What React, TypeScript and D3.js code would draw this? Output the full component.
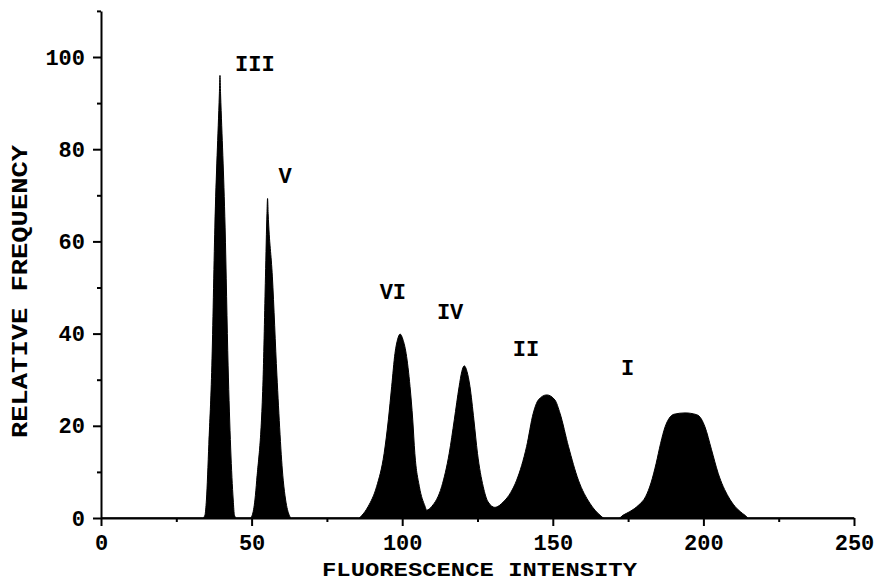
import React, { useEffect, useRef } from 'react'
import * as d3 from 'd3'

// outline of the histogram (intensity, relative frequency)
const intensity = [
  0, 33.8, 34.5, 35.0, 35.8, 36.8, 37.8, 39.3, 39.5, 39.7, 41.2, 42.2, 43.9, 44.3, 45,
  49.5, 50.2, 51.1, 51.7, 53.8, 54.6, 55.1, 55.3, 55.5, 56.9, 58.4, 60.5, 61.3, 62.5, 63.2,
  85.5, 86.5, 88.7, 91.5, 94.0, 95.4, 96.5, 97.6, 98.5, 99.3, 100.2, 101.3, 102.6, 103.5, 104.2, 105.7, 107.6, 108.1,
  109.8, 113.1, 115.6, 117.3, 118.9, 119.8, 120.6, 121.5, 122.5, 123.8, 125.0, 126.9, 128.5, 130.8,
  133.6, 136.0, 138.0, 141.3, 143.5, 145.2, 148.0, 150.7, 152.4, 155.2, 158.5, 162.3, 165.7, 167,
  172, 173.3, 175.6, 178.5, 180.8, 182.6, 184.3, 185.8, 187.3, 188.6, 190.2, 193.9, 197.8, 199.3, 200.5, 202.7, 204.9, 208.3, 210.5, 212.2, 213.8, 215, 250,
]
const frequency = [
  0, 0, 0.6, 3.9, 16, 33, 63.1, 92, 96, 92, 63.1, 33, 3.9, 0.6, 0,
  0, 0.6, 3.9, 8.2, 30, 52.3, 66, 69.3, 66, 52.3, 31, 8.2, 3.9, 0.6, 0,
  0, 0.5, 2.5, 6.8, 14, 21.3, 28.5, 35.7, 38.8, 39.9, 38.8, 35.7, 28.5, 21.3, 14, 6.8, 2.5, 1.7,
  2.5, 6.8, 14, 21.3, 28.5, 31.8, 33, 31.8, 28.5, 21.3, 14, 6.8, 3.5, 2.3,
  3.5, 5.5, 8.2, 15.5, 22.7, 25.6, 26.7, 25.6, 22.7, 15.5, 8.2, 3.2, 0.6, 0,
  0, 0.6, 1.4, 2.8, 4.6, 7.6, 11.8, 16.2, 19.8, 21.6, 22.5, 22.8, 22.4, 21.5, 19.8, 14.8, 9.7, 4.6, 2.5, 1.4, 0.6, 0, 0,
]

// peak labels and where they sit (in data units)
const peakNames = ['III', 'V', 'VI', 'IV', 'II', 'I']
const peakLabelX = [51.1, 61.1, 96.9, 115.9, 141.1, 174.8]
const peakLabelY = [97, 72.7, 47.5, 43.2, 35.1, 31]

const xTicks = [0, 50, 100, 150, 200, 250]
const xMinorTicks = [25, 75, 125, 175, 225]
const yTicks = [0, 20, 40, 60, 80, 100]
const yMinorTicks = [10, 30, 50, 70, 90, 110]

const FONT = '"Liberation Mono", "DejaVu Sans Mono", monospace'

const App = () => {
  const svgRef = useRef<SVGSVGElement>(null)

  useEffect(() => {
    const svg = d3.select(svgRef.current)
    svg.selectAll('*').remove()

    const x = d3.scaleLinear().domain([0, 250]).range([101, 854])
    const y = d3.scaleLinear().domain([0, 110]).range([518, 518 - 110 * 4.61])

    const points = intensity.map((v, i) => [v, frequency[i]] as [number, number])

    // filled histogram
    const area = d3.area<[number, number]>()
      .x(d => x(d[0]))
      .y0(y(0))
      .y1(d => y(d[1]))
      .curve(d3.curveMonotoneX)

    svg.append('path')
      .datum(points)
      .attr('d', area)
      .attr('fill', '#000')
      .attr('stroke', '#000')
      .attr('stroke-width', 1)

    // x axis: minor ticks first, then major with labels
    const xMinor = svg.append('g')
      .attr('transform', `translate(0,${y(0)})`)
      .call(d3.axisBottom(x).tickValues(xMinorTicks).tickSize(4).tickSizeOuter(0).tickFormat(() => ''))
    xMinor.select('.domain').remove()

    const xAxis = svg.append('g')
      .attr('transform', `translate(0,${y(0)})`)
      .call(d3.axisBottom(x).tickValues(xTicks).tickSize(8).tickSizeOuter(0).tickPadding(8))

    const yMinor = svg.append('g')
      .attr('transform', `translate(${x(0)},0)`)
      .call(d3.axisLeft(y).tickValues(yMinorTicks).tickSize(4).tickSizeOuter(0).tickFormat(() => ''))
    yMinor.select('.domain').remove()

    const yAxis = svg.append('g')
      .attr('transform', `translate(${x(0)},0)`)
      .call(d3.axisLeft(y).tickValues(yTicks).tickSize(8).tickSizeOuter(0).tickPadding(8))

    svg.selectAll('.domain, .tick line')
      .attr('stroke', '#000')
      .attr('stroke-width', 2)

    for (const g of [xAxis, yAxis]) {
      g.selectAll('text')
        .attr('fill', '#000')
        .style('font-family', FONT)
        .style('font-size', '22px')
        .style('font-weight', 'bold')
    }

    // peak labels
    svg.append('g')
      .selectAll('text')
      .data(peakNames)
      .join('text')
      .attr('x', (d, i) => x(peakLabelX[i]))
      .attr('y', (d, i) => y(peakLabelY[i]))
      .attr('text-anchor', 'middle')
      .style('font-family', FONT)
      .style('font-size', '22px')
      .style('font-weight', 'bold')
      .text(d => d)

    // axis titles
    svg.append('text')
      .attr('x', 322)
      .attr('y', 576)
      .attr('textLength', 315)
      .attr('lengthAdjust', 'spacingAndGlyphs')
      .style('font-family', FONT)
      .style('font-size', '21px')
      .style('font-weight', 'bold')
      .text('FLUORESCENCE INTENSITY')

    svg.append('text')
      .attr('transform', 'translate(27,438) rotate(-90)')
      .attr('textLength', 293)
      .attr('lengthAdjust', 'spacingAndGlyphs')
      .style('font-family', FONT)
      .style('font-size', '22px')
      .style('font-weight', 'bold')
      .text('RELATIVE FREQUENCY')
  }, [])

  return (
    <svg
      ref={svgRef}
      width={878}
      height={582}
      style={{ position: 'absolute', left: 0, top: 0, background: '#fff' }}
    />
  )
}

export default App
